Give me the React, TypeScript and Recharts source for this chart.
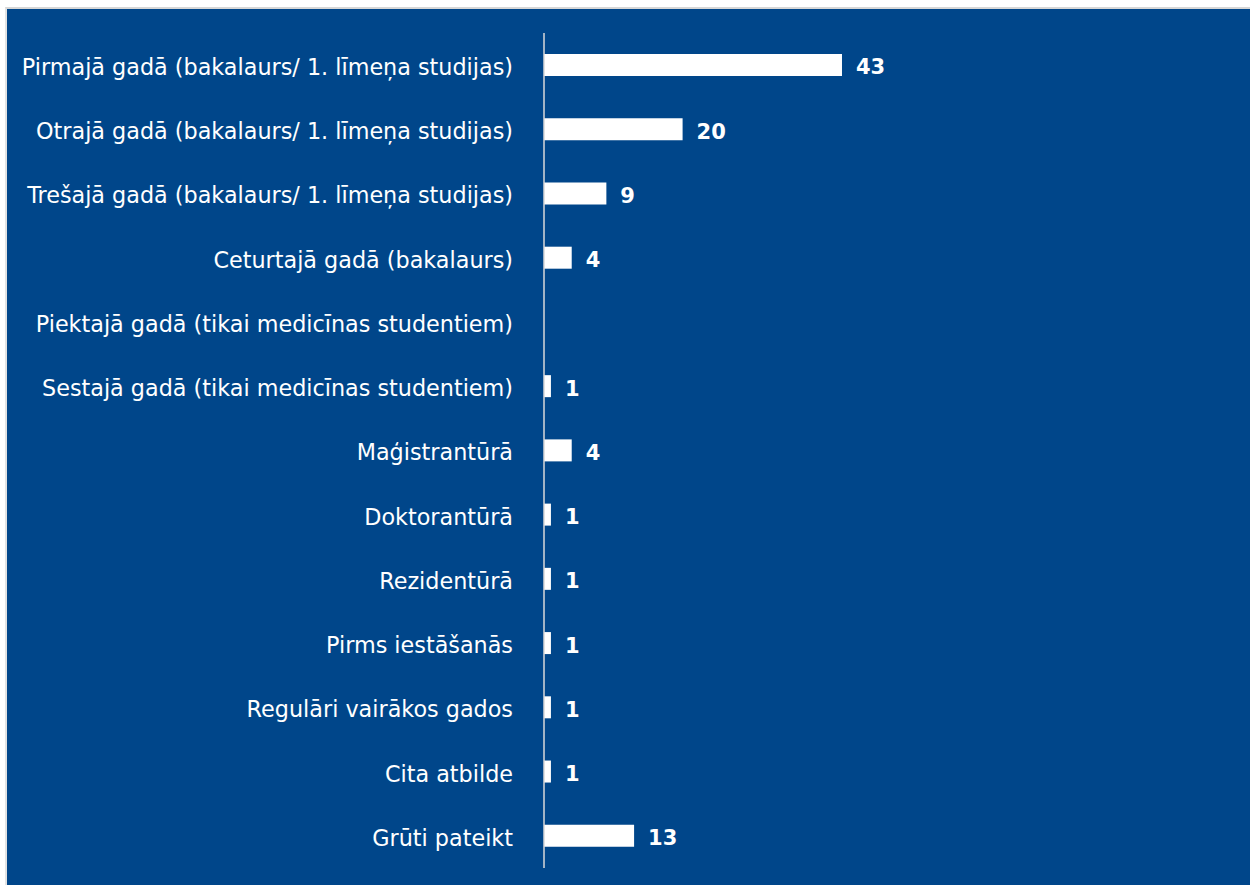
import { BarChart, Bar, XAxis, YAxis, LabelList } from 'recharts';

// Answer categories and counts, top to bottom
const categories = [
  'Pirmajā gadā (bakalaurs/ 1. līmeņa studijas)',
  'Otrajā gadā (bakalaurs/ 1. līmeņa studijas)',
  'Trešajā gadā (bakalaurs/ 1. līmeņa studijas)',
  'Ceturtajā gadā (bakalaurs)',
  'Piektajā gadā (tikai medicīnas studentiem)',
  'Sestajā gadā (tikai medicīnas studentiem)',
  'Maģistrantūrā',
  'Doktorantūrā',
  'Rezidentūrā',
  'Pirms iestāšanās',
  'Regulāri vairākos gados',
  'Cita atbilde',
  'Grūti pateikt',
];
const counts = [43, 20, 9, 4, 0, 1, 4, 1, 1, 1, 1, 1, 13];

const BG = '#00468a';
const FONT = '"DejaVu Sans", Verdana, sans-serif';

export default function App() {
  const data = categories.map((name, i) => ({ name, value: counts[i] }));

  return (
    <div style={{ position: 'absolute', top: 0, left: 0, width: 1250, height: 885, background: '#ffffff' }}>
      <div
        style={{
          position: 'absolute',
          left: 5,
          top: 7,
          width: 1245,
          height: 878,
          borderTop: '2px solid #d6d6d6',
          borderLeft: '2px solid #e2e2e2',
          background: BG,
        }}
      >
        <BarChart
          width={1243}
          height={876}
          layout="vertical"
          data={data}
          margin={{ top: 24, right: 13, bottom: 17, left: 0 }}
          barSize={22}
        >
          <XAxis type="number" domain={[0, 100]} hide />
          <YAxis
            type="category"
            dataKey="name"
            width={537}
            interval={0}
            tickLine={false}
            tickMargin={25}
            axisLine={{ stroke: '#d9d9d9', strokeWidth: 1.5 }}
            tick={{ fill: '#ffffff', fontSize: 22.3, fontFamily: FONT, dy: 2 }}
          />
          <Bar dataKey="value" fill="#ffffff" isAnimationActive={false}>
            <LabelList
              dataKey="value"
              position="right"
              offset={14}
              dy={2}
              formatter={(v: number) => (v ? v : '')}
              style={{ fill: '#ffffff', fontSize: 21, fontWeight: 700, fontFamily: FONT }}
            />
          </Bar>
        </BarChart>
      </div>
    </div>
  );
}
